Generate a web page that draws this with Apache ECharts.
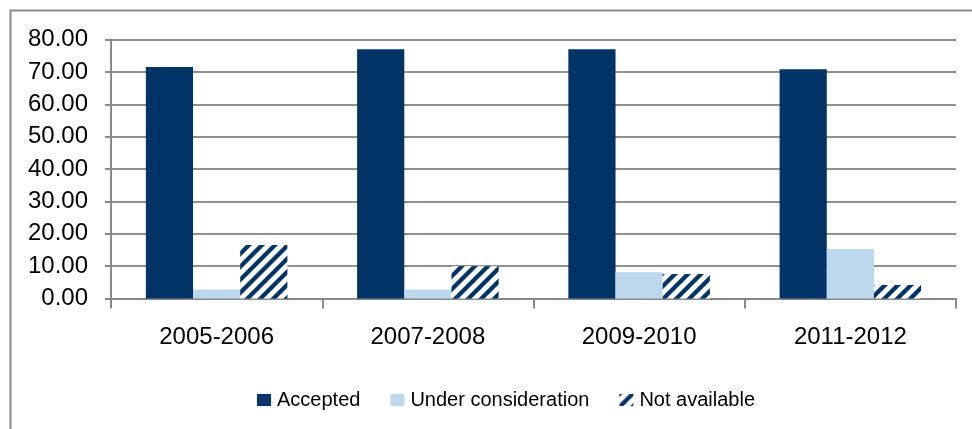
<!DOCTYPE html>
<html>
<head>
<meta charset="utf-8">
<script src="https://cdn.jsdelivr.net/npm/echarts@6/dist/echarts.min.js"></script>
<style>
  html, body { margin: 0; padding: 0; background: #fff; }
  #chart { width: 972px; height: 429px; }
</style>
</head>
<body>
<div id="chart"></div>
<script>
// Periods shown on the category axis
const periods = ['2005-2006', '2007-2008', '2009-2010', '2011-2012'];

// Share of recommendations by status (%)
const accepted = [71.5, 77.0, 77.0, 70.8];
const underConsideration = [2.8, 2.8, 8.1, 15.3];
const notAvailable = [16.5, 10.0, 7.6, 4.2];

const seriesNames = ['Accepted', 'Under consideration', 'Not available'];

const NAVY = '#003366';
const LIGHT = '#bdd7ee';
const AXIS_GREY = '#898989';
const FONT = 'Liberation Sans, Arial, sans-serif';

// Diagonal "/" hatch tile used for the "Not available" bars
function makeHatch() {
  const s = 13;
  const c = document.createElement('canvas');
  c.width = s; c.height = s;
  const g = c.getContext('2d');
  g.fillStyle = '#ffffff';
  g.fillRect(0, 0, s, s);
  g.strokeStyle = NAVY;
  g.lineWidth = 4.2;
  g.lineCap = 'square';
  [-s, 0, s].forEach(function (o) {
    g.beginPath();
    g.moveTo(o, s);
    g.lineTo(o + s, 0);
    g.stroke();
  });
  return c;
}
const hatch = { image: makeHatch(), repeat: 'repeat' };

const chart = echarts.init(document.getElementById('chart'));

chart.setOption({
  backgroundColor: '#ffffff',
  animation: false,
  graphic: [{
    type: 'rect',
    shape: { x: 10.5, y: 10.5, width: 1000, height: 500 },
    style: { fill: 'none', stroke: '#8a8a8a', lineWidth: 2 },
    silent: true,
    z: -1
  }],
  grid: { left: 111, right: 16, top: 39.5, bottom: 130.5, containLabel: false },
  legend: {
    left: 252,
    top: 385,
    itemWidth: 14,
    itemHeight: 12,
    itemGap: 30,
    icon: 'rect',
    textStyle: { fontFamily: FONT, fontSize: 20, color: '#000', padding: [4, 0, 0, 1] },
    data: seriesNames
  },
  xAxis: {
    type: 'category',
    data: periods,
    axisLine: { show: true, lineStyle: { color: AXIS_GREY, width: 2 } },
    axisTick: { show: true, length: 10, interval: 0, lineStyle: { color: AXIS_GREY, width: 2 } },
    axisLabel: { fontFamily: FONT, fontSize: 24, color: '#000', margin: 27, interval: 0 },
    splitLine: { show: false }
  },
  yAxis: {
    type: 'value',
    min: 0,
    max: 80,
    interval: 10,
    axisLine: { show: true, lineStyle: { color: AXIS_GREY, width: 2 } },
    axisTick: { show: true, length: 6, lineStyle: { color: AXIS_GREY, width: 2 } },
    axisLabel: {
      fontFamily: FONT, fontSize: 24, color: '#000', margin: 23,
      formatter: function (v) { return v.toFixed(2); }
    },
    splitLine: { show: true, lineStyle: { color: '#8f8f8f', width: 2 } }
  },
  series: [
    {
      name: seriesNames[0], type: 'bar', data: accepted,
      barGap: '0%', barCategoryGap: '33%',
      itemStyle: { color: NAVY }
    },
    {
      name: seriesNames[1], type: 'bar', data: underConsideration,
      barGap: '0%', barCategoryGap: '33%',
      itemStyle: { color: LIGHT }
    },
    {
      name: seriesNames[2], type: 'bar', data: notAvailable,
      barGap: '0%', barCategoryGap: '33%',
      itemStyle: { color: hatch }
    }
  ]
});
</script>
</body>
</html>
